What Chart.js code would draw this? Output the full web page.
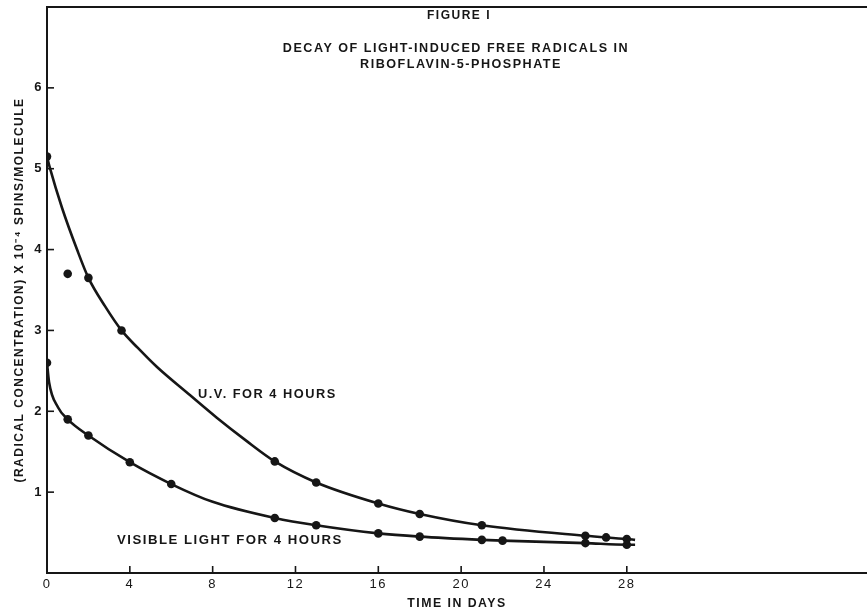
<!DOCTYPE html>
<html>
<head>
<meta charset="utf-8">
<script src="https://cdn.jsdelivr.net/npm/chart.js@4"></script>
<style>
  html, body { margin: 0; padding: 0; background: #fff; }
  #wrap { width: 867px; height: 615px; }
</style>
</head>
<body>
<div id="wrap"><canvas id="c" width="867" height="615"></canvas></div>
<script>
// ---- data ----
const uvDays   = [0, 1, 2, 3.6, 11, 13, 16, 18, 21, 26, 27, 28];
const uvValues = [5.15, 3.7, 3.65, 3.0, 1.38, 1.12, 0.86, 0.73, 0.59, 0.46, 0.44, 0.42];

const visDays   = [0, 1, 2, 4, 6, 11, 13, 16, 18, 21, 22, 26, 28];
const visValues = [2.6, 1.9, 1.7, 1.37, 1.1, 0.68, 0.59, 0.49, 0.45, 0.41, 0.40, 0.37, 0.35];

// hand-drawn fitted curves
const uvCurveDays   = [0, 0.15, 0.72, 1.45, 2, 2.8, 3.6, 4.4, 5.3, 6.9, 8.2, 9.6, 11, 13, 16, 18, 21, 26, 28, 28.4];
const uvCurveValues = [5.15, 5.0, 4.52, 4.0, 3.65, 3.3, 3.0, 2.78, 2.55, 2.2, 1.92, 1.64, 1.38, 1.12, 0.86, 0.73, 0.59, 0.46, 0.42, 0.41];

const visCurveDays   = [0, 0.1, 0.53, 1, 2, 4, 6, 8, 11, 13, 16, 18, 21, 22, 26, 28, 28.4];
const visCurveValues = [2.6, 2.36, 2.05, 1.9, 1.7, 1.37, 1.1, 0.88, 0.68, 0.59, 0.49, 0.45, 0.41, 0.40, 0.37, 0.35, 0.35];

const xTickValues = [0, 4, 8, 12, 16, 20, 24, 28];
const yTickValues = [1, 2, 3, 4, 5, 6];

const titleLines = ['FIGURE I', 'DECAY OF LIGHT-INDUCED FREE RADICALS IN', 'RIBOFLAVIN-5-PHOSPHATE'];
const uvLabel = 'U.V. FOR 4 HOURS';
const visLabel = 'VISIBLE LIGHT FOR 4 HOURS';
const xTitle = 'TIME IN DAYS';
const yTitle = '(RADICAL CONCENTRATION) X 10\u207B\u2074 SPINS/MOLECULE';

const toXY = (xs, ys) => xs.map((x, i) => ({ x: x, y: ys[i] }));

const INK = '#161616';
const FONT = 'Liberation Sans';
const LS = '1.5px';

const spacingPlugin = {
  id: 'spacing',
  beforeLayout(chart) { chart.ctx.letterSpacing = LS; },
  beforeDraw(chart) { chart.ctx.letterSpacing = LS; }
};

const decorPlugin = {
  id: 'decor',
  afterDraw(chart) {
    const ctx = chart.ctx;
    const area = chart.chartArea;
    const xs = chart.scales.x, ys = chart.scales.y;
    ctx.save();
    ctx.strokeStyle = INK;
    // top frame line
    ctx.lineWidth = 2;
    ctx.beginPath();
    ctx.moveTo(area.left, area.top);
    ctx.lineTo(area.right, area.top);
    ctx.stroke();
    // inward tick marks
    ctx.lineWidth = 1.6;
    xTickValues.forEach(v => {
      if (v === 0) return;
      const px = xs.getPixelForValue(v);
      ctx.beginPath();
      ctx.moveTo(px, area.bottom + 1);
      ctx.lineTo(px, area.bottom - 7);
      ctx.stroke();
    });
    yTickValues.forEach(v => {
      const py = ys.getPixelForValue(v);
      ctx.beginPath();
      ctx.moveTo(area.left, py);
      ctx.lineTo(area.left + 7, py);
      ctx.stroke();
    });
    // texts
    ctx.fillStyle = INK;
    ctx.letterSpacing = LS;
    ctx.textBaseline = 'middle';
    ctx.textAlign = 'center';
    ctx.font = 'bold 12px "' + FONT + '"';
    ctx.fillText(titleLines[0], 459, 16);
    ctx.font = 'bold 12.6px "' + FONT + '"';
    ctx.fillText(titleLines[1], 456, 49);
    ctx.fillText(titleLines[2], 461, 65);
    ctx.textAlign = 'left';
    ctx.font = 'bold 12.8px "' + FONT + '"';
    ctx.fillText(uvLabel, 198, 394);
    ctx.font = 'bold 13.2px "' + FONT + '"';
    ctx.fillText(visLabel, 117, 540);
    ctx.restore();
  }
};

new Chart(document.getElementById('c'), {
  type: 'scatter',
  data: {
    datasets: [
      {
        label: 'UV curve', data: toXY(uvCurveDays, uvCurveValues), showLine: true,
        borderColor: INK, borderWidth: 2.6, pointRadius: 0, fill: false,
        cubicInterpolationMode: 'monotone'
      },
      {
        label: 'Visible curve', data: toXY(visCurveDays, visCurveValues), showLine: true,
        borderColor: INK, borderWidth: 2.6, pointRadius: 0, fill: false,
        cubicInterpolationMode: 'monotone'
      },
      {
        label: 'U.V. for 4 hours', data: toXY(uvDays, uvValues), showLine: false,
        pointRadius: 4.3, backgroundColor: INK, borderColor: INK, borderWidth: 0
      },
      {
        label: 'Visible light for 4 hours', data: toXY(visDays, visValues), showLine: false,
        pointRadius: 4.3, backgroundColor: INK, borderColor: INK, borderWidth: 0
      }
    ]
  },
  options: {
    responsive: false,
    animation: false,
    events: [],
    layout: { autoPadding: false, padding: { top: 7, left: 0, right: 0, bottom: 0 } },
    plugins: { legend: { display: false }, tooltip: { enabled: false }, title: { display: false } },
    scales: {
      x: {
        type: 'linear', min: 0, max: 39.6,
        afterFit(s) { s.height = 42; s.paddingLeft = 0; s.paddingRight = 0; },
        afterBuildTicks(s) { s.ticks = xTickValues.map(v => ({ value: v })); },
        grid: { display: false, drawTicks: false },
        border: { display: true, color: INK, width: 2 },
        ticks: { color: INK, padding: 4, font: { family: FONT, size: 13 }, maxRotation: 0, autoSkip: false },
        title: { display: true, text: xTitle, color: INK, padding: { top: 0, bottom: 4 }, font: { family: FONT, size: 12.3, weight: 'bold' } }
      },
      y: {
        type: 'linear', min: 0, max: 7,
        afterFit(s) { s.width = 47; s.paddingTop = 0; s.paddingBottom = 0; },
        afterBuildTicks(s) { s.ticks = yTickValues.map(v => ({ value: v })); },
        grid: { display: false, drawTicks: false },
        border: { display: true, color: INK, width: 2 },
        ticks: { color: INK, padding: 4, font: { family: FONT, size: 13, weight: 'bold' }, autoSkip: false },
        title: { display: true, text: yTitle, color: INK, padding: { top: 12, bottom: 0 }, font: { family: FONT, size: 12, weight: 'bold' } }
      }
    }
  },
  plugins: [spacingPlugin, decorPlugin]
});
</script>
</body>
</html>
